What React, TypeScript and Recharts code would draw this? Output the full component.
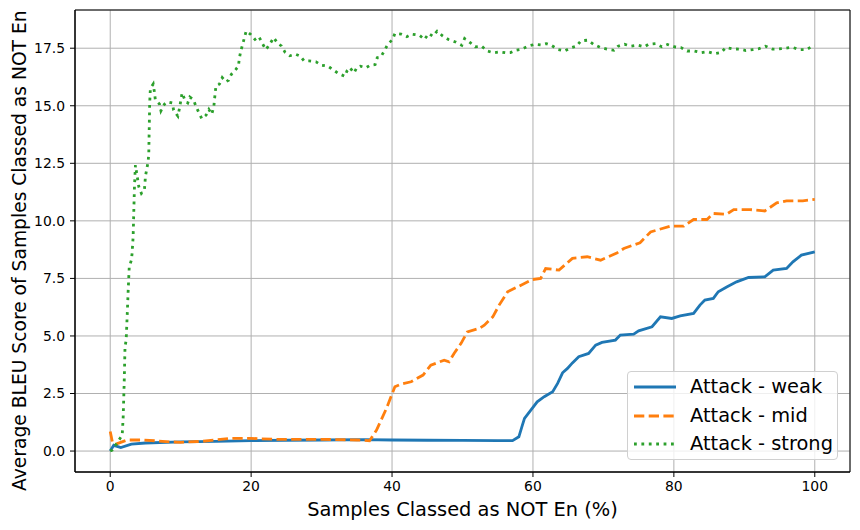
import React from 'react';
import { LineChart, Line, XAxis, YAxis, CartesianGrid, ReferenceArea, Legend } from 'recharts';

// x = samples classed as NOT En (%), y = average BLEU score
const weakX = [0, 0.5, 1.5, 3, 5, 10, 15, 20, 25, 30, 36, 40, 45, 50, 55, 57.1, 58.0, 58.5, 58.8, 59.7, 60.6, 61.6, 62.8, 63.5, 64.2, 64.9, 65.6, 66.5, 67.9, 68.9, 69.8, 71.7, 72.4, 74.3, 75.0, 76.9, 78.1, 79.7, 80.9, 82.8, 83.7, 84.4, 85.6, 86.3, 87.5, 88.9, 90.6, 92.9, 94.1, 96.0, 96.9, 98.1, 100];
const weakY = [0.0, 0.25, 0.15, 0.3, 0.35, 0.4, 0.42, 0.45, 0.47, 0.48, 0.5, 0.48, 0.47, 0.46, 0.45, 0.45, 0.62, 1.13, 1.42, 1.78, 2.14, 2.36, 2.58, 2.94, 3.4, 3.59, 3.83, 4.1, 4.24, 4.6, 4.72, 4.82, 5.04, 5.08, 5.22, 5.4, 5.83, 5.76, 5.87, 5.98, 6.34, 6.56, 6.63, 6.92, 7.13, 7.35, 7.54, 7.57, 7.86, 7.93, 8.22, 8.51, 8.65];

const midX = [0, 0.3, 0.8, 2.4, 4.8, 8.5, 10, 13, 17, 20, 23.6, 28.3, 32, 35, 36.8, 37.8, 39.2, 40.4, 41.3, 42.7, 44.4, 45.5, 47.4, 48.1, 48.8, 49.8, 50.7, 52.4, 53.1, 54.3, 55.2, 56.4, 57.8, 59.9, 61.1, 61.8, 63.7, 65.6, 67.7, 69.6, 71.9, 72.9, 75.2, 76.7, 79.5, 81.4, 82.8, 84.7, 85.6, 87.5, 88.5, 90.8, 92.9, 94.6, 96.0, 98.3, 100];
const midY = [0.85, 0.4, 0.3, 0.48, 0.48, 0.4, 0.38, 0.42, 0.55, 0.55, 0.51, 0.51, 0.5, 0.48, 0.45, 0.91, 1.85, 2.79, 2.91, 3.01, 3.3, 3.73, 3.95, 3.88, 4.24, 4.68, 5.18, 5.33, 5.47, 5.83, 6.34, 6.92, 7.13, 7.45, 7.5, 7.93, 7.86, 8.37, 8.44, 8.29, 8.6, 8.8, 9.05, 9.52, 9.77, 9.77, 10.06, 10.06, 10.32, 10.29, 10.49, 10.49, 10.43, 10.78, 10.87, 10.87, 10.93];

const strongX = [0, 0.28, 1.7, 1.84, 1.98, 2.1, 2.26, 2.4, 2.55, 2.7, 3.0, 3.1, 3.25, 3.35, 3.44, 3.58, 4.06, 4.43, 4.85, 5.0, 5.37, 5.47, 5.6, 5.7, 6.1, 6.27, 6.4, 7.0, 7.2, 7.7, 8.1, 8.8, 9.0, 9.6, 9.85, 10.2, 10.65, 11.0, 11.3, 11.8, 12.2, 12.6, 13.0, 13.6, 14.0, 14.4, 14.7, 14.8, 15.0, 15.5, 15.9, 16.4, 16.8, 17.2, 17.8, 18.2, 18.3, 18.5, 18.8, 19.05, 19.3, 19.9, 20.55, 21.1, 21.6, 22.1, 22.7, 23.2, 23.8, 24.3, 24.8, 25.5, 26.3, 27.0, 27.5, 28.2, 29.2, 30.0, 30.9, 31.6, 32.4, 33.3, 33.6, 34.0, 34.6, 35.0, 35.5, 36.3, 36.9, 37.6, 37.9, 38.4, 38.9, 39.4, 40.1, 40.4, 41.3, 42.1, 42.8, 43.9, 44.6, 45.2, 45.8, 46.4, 47.2, 48.0, 49.0, 49.9, 50.3, 51.1, 51.8, 52.7, 53.5, 54.4, 55.3, 56.2, 56.8, 57.5, 58.4, 59.3, 60.3, 61.1, 61.9, 62.7, 63.6, 64.5, 65.3, 66.2, 66.8, 67.8, 68.6, 69.6, 70.5, 71.5, 72.1, 73.0, 73.9, 74.9, 75.8, 76.4, 77.4, 78.3, 79.1, 80.1, 81.0, 81.9, 82.9, 83.9, 84.8, 85.8, 86.7, 87.4, 88.4, 89.3, 90.2, 91.2, 92.1, 93.0, 94.0, 94.9, 95.9, 96.8, 97.8, 98.8, 99.7, 100];
const strongY = [0.0, 0.04, 0.69, 1.49, 2.94, 4.53, 4.82, 5.83, 6.99, 8.0, 8.29, 8.58, 9.3, 10.46, 11.48, 12.42, 11.48, 11.19, 11.33, 11.94, 12.56, 12.9, 15.12, 15.75, 15.94, 15.6, 15.27, 15.07, 14.78, 15.07, 15.17, 15.12, 14.81, 14.55, 14.92, 15.56, 15.21, 15.12, 15.38, 15.27, 14.95, 14.69, 14.44, 14.59, 14.84, 14.63, 14.95, 15.27, 15.85, 15.94, 16.22, 16.04, 16.11, 16.37, 16.57, 16.72, 17.0, 17.34, 17.67, 17.96, 18.25, 18.11, 17.88, 18.0, 17.7, 17.44, 17.7, 17.96, 17.7, 17.6, 17.33, 17.17, 17.24, 17.15, 16.95, 16.95, 16.91, 16.76, 16.72, 16.57, 16.4, 16.28, 16.51, 16.66, 16.43, 16.66, 16.72, 16.65, 16.76, 16.79, 17.09, 17.12, 17.38, 17.67, 17.89, 18.14, 18.11, 18.0, 18.11, 18.06, 17.88, 18.14, 18.02, 18.24, 18.03, 17.88, 17.77, 17.63, 17.92, 17.74, 17.56, 17.59, 17.38, 17.3, 17.34, 17.3, 17.31, 17.41, 17.46, 17.59, 17.67, 17.64, 17.7, 17.61, 17.44, 17.38, 17.51, 17.59, 17.82, 17.85, 17.67, 17.53, 17.46, 17.41, 17.59, 17.67, 17.59, 17.63, 17.56, 17.67, 17.7, 17.56, 17.66, 17.56, 17.53, 17.38, 17.38, 17.31, 17.35, 17.26, 17.31, 17.53, 17.47, 17.46, 17.4, 17.44, 17.48, 17.59, 17.46, 17.47, 17.5, 17.54, 17.44, 17.44, 17.59, 17.6];

const xTicks = [0, 20, 40, 60, 80, 100];
const yTicks = [0, 2.5, 5, 7.5, 10, 12.5, 15, 17.5];

const toPoints = (xs: number[], ys: number[]) => xs.map((x, i) => ({ x, y: ys[i] }));

const series = [
  { name: 'Attack - weak', color: '#1f77b4', dash: undefined, data: toPoints(weakX, weakY) },
  { name: 'Attack - mid', color: '#ff7f0e', dash: '10.3 4.4', data: toPoints(midX, midY) },
  { name: 'Attack - strong', color: '#2ca02c', dash: '2.8 4.6', data: toPoints(strongX, strongY) },
];

const FONT = '"DejaVu Sans", sans-serif';

function LegendBox() {
  return (
    <div
      style={{
        position: 'absolute',
        left: 627,
        top: 371,
        width: 211,
        height: 89,
        border: '1px solid #d0d0d0',
        borderRadius: 4,
        background: 'rgba(255,255,255,0.8)',
        fontFamily: FONT,
        fontSize: 19.4,
        color: '#000',
        boxSizing: 'border-box',
        paddingTop: 1,
      }}
    >
      {series.map((s) => (
        <div key={s.name} style={{ display: 'flex', alignItems: 'center', height: 28.5 }}>
          <svg width={60} height={10} style={{ marginLeft: 5 }}>
            <line x1={1} x2={43} y1={5} y2={5} stroke={s.color} strokeWidth={2.8} strokeDasharray={s.dash} />
          </svg>
          <span style={{ marginLeft: -3, lineHeight: '20px' }}>{s.name}</span>
        </div>
      ))}
    </div>
  );
}

export default function App() {
  return (
    <div style={{ position: 'absolute', left: 0, top: 0, width: 860, height: 530, background: '#fff' }}>
      <LineChart width={860} height={530} margin={{ top: 10, right: 10, bottom: 0, left: 0 }}>
        <CartesianGrid stroke="#b0b0b0" strokeWidth={1} />
        <XAxis
          dataKey="x"
          type="number"
          domain={[-5, 105]}
          ticks={xTicks}
          allowDataOverflow
          height={58}
          tickSize={5}
          tickMargin={4}
          stroke="#000"
          tick={{ fill: '#000', fontSize: 13.9, fontFamily: FONT }}
          label={{
            content: (p: any) => (
              <text
                x={p.viewBox.x + p.viewBox.width / 2}
                y={516}
                textAnchor="middle"
                fontSize={19.4}
                fontFamily={FONT}
                fill="#000"
              >
                Samples Classed as NOT En (%)
              </text>
            ),
          }}
        />
        <YAxis
          dataKey="y"
          type="number"
          domain={[-0.91, 19.16]}
          ticks={yTicks}
          allowDataOverflow
          width={75}
          tickSize={5}
          tickMargin={5}
          stroke="#000"
          tickFormatter={(v: number) => v.toFixed(1)}
          tick={{ fill: '#000', fontSize: 13.9, fontFamily: FONT }}
          label={{
            content: () => (
              <text
                x={26}
                y={491}
                transform="rotate(-90 26 491)"
                textAnchor="start"
                fontSize={18.7}
                fontFamily={FONT}
                fill="#000"
              >
                Average BLEU Score of Samples Classed as NOT En
              </text>
            ),
          }}
        />
        <ReferenceArea x1={-5} x2={105} y1={-0.91} y2={19.16} fill="none" stroke="#000" strokeWidth={1} />
        {series.map((s) => (
          <Line
            key={s.name}
            data={s.data}
            dataKey="y"
            name={s.name}
            type="linear"
            stroke={s.color}
            strokeWidth={2.8}
            strokeDasharray={s.dash}
            dot={false}
            activeDot={false}
            isAnimationActive={false}
          />
        ))}
        <Legend content={() => null} />
      </LineChart>
      <LegendBox />
    </div>
  );
}
